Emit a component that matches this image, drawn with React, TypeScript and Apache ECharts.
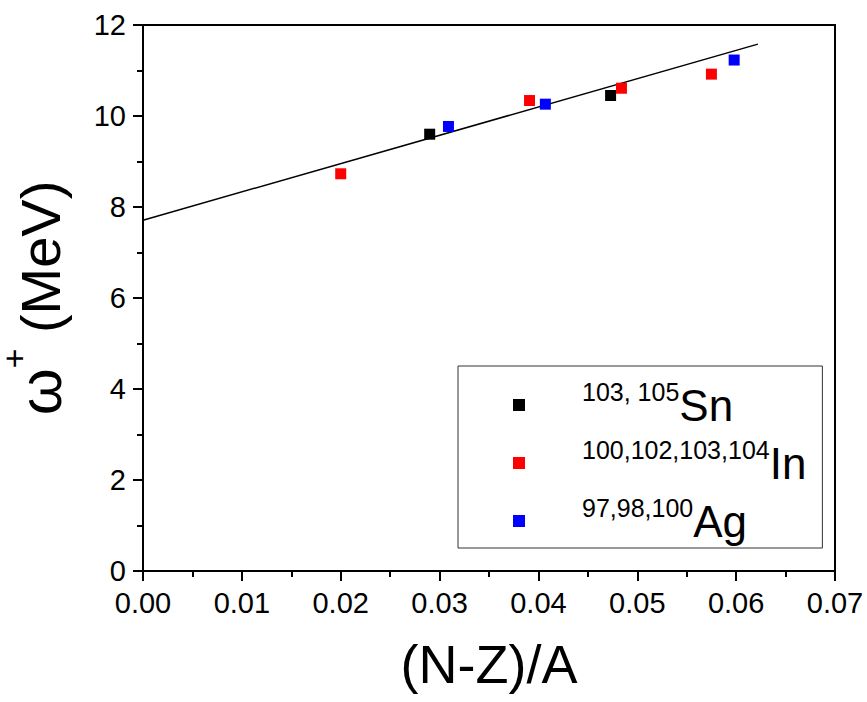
import React, { useEffect, useRef } from "react";
import * as echarts from "echarts";

const xTickMin = 0;
const xTickMax = 0.07;
const xTickStep = 0.01;
const yTickMin = 0;
const yTickMax = 12;
const yTickStep = 2;

const snX = [0.029, 0.0473];
const snY = [9.6, 10.45];
const inX = [0.02, 0.0391, 0.0484, 0.0575];
const inY = [8.73, 10.34, 10.61, 10.92];
const agX = [0.0309, 0.0407, 0.0598];
const agY = [9.77, 10.26, 11.23];
const fitX = [0, 0.0622];
const fitY = [7.71, 11.58];

const legendNames = ["Sn", "In", "Ag"];
const legendSup = ["103, 105", "100,102,103,104", "97,98,100"];

const FONT = "'Liberation Sans', Arial, sans-serif";

const zip = (xs: number[], ys: number[]) => xs.map((x, i) => [x, ys[i]]);

export default function App() {
  const ref = useRef<HTMLDivElement>(null);
  useEffect(() => {
    if (!ref.current) return;
    const chart = echarts.init(ref.current, null, { renderer: "svg" });
    chart.setOption({
      animation: false,
      backgroundColor: "#ffffff",
      grid: {
        left: 143,
        right: 32,
        top: 25,
        bottom: 131,
        show: true,
        borderColor: "#000",
        borderWidth: 2,
        containLabel: false,
        outerBoundsMode: "none",
      },
      legend: {
        orient: "vertical",
        left: 458,
        top: 366,
        data: legendNames,
        icon: "rect",
        itemWidth: 12,
        itemHeight: 12,
        itemGap: 10,
        padding: [13, 16, 5, 55],
        borderColor: "#333",
        borderWidth: 1,
        formatter: (name: string) => {
          const i = legendNames.indexOf(name);
          return `{g| }{s|${legendSup[i]}}{m|${name}}`;
        },
        textStyle: {
          fontFamily: FONT,
          color: "#000",
          rich: {
            g: { width: 52, lineHeight: 52, fontSize: 12 },
            s: { fontSize: 25, lineHeight: 25, verticalAlign: "top", fontFamily: FONT, color: "#000" },
            m: { fontSize: 44, lineHeight: 52, verticalAlign: "middle", fontFamily: FONT, color: "#000" },
          },
        },
      },
      xAxis: {
        type: "value",
        min: xTickMin,
        max: xTickMax,
        interval: xTickStep,
        name: "(N-Z)/A",
        nameLocation: "middle",
        nameGap: 66,
        nameTextStyle: { fontFamily: FONT, fontSize: 54, color: "#000" },
        axisLine: { show: true, onZero: false, lineStyle: { color: "#000", width: 2 } },
        axisTick: { show: true, inside: false, length: 10, lineStyle: { color: "#000", width: 2 } },
        minorTick: { show: true, splitNumber: 2, length: 6, lineStyle: { color: "#000", width: 2 } },
        splitLine: { show: false },
        axisLabel: {
          margin: 17,
          fontFamily: FONT,
          fontSize: 29,
          color: "#000",
          formatter: (v: number) => v.toFixed(2),
        },
      },
      yAxis: {
        type: "value",
        min: yTickMin,
        max: yTickMax,
        interval: yTickStep,
        name: "{w|ω}{p|+}{t| (MeV)}",
        nameLocation: "middle",
        nameGap: 59,
        nameTextStyle: {
          fontFamily: FONT,
          fontSize: 56,
          color: "#000",
          rich: {
            w: { fontFamily: FONT, fontSize: 60, lineHeight: 87, verticalAlign: "middle", color: "#000" },
            p: { fontFamily: FONT, fontSize: 34, lineHeight: 34, verticalAlign: "top", color: "#000" },
            t: { fontFamily: FONT, fontSize: 56, lineHeight: 87, verticalAlign: "middle", color: "#000" },
          },
        },
        axisLine: { show: true, onZero: false, lineStyle: { color: "#000", width: 2 } },
        axisTick: { show: true, inside: false, length: 10, lineStyle: { color: "#000", width: 2 } },
        minorTick: { show: true, splitNumber: 2, length: 6, lineStyle: { color: "#000", width: 2 } },
        splitLine: { show: false },
        axisLabel: { margin: 17, fontFamily: FONT, fontSize: 29, color: "#000" },
      },
      series: [
        {
          name: "fit",
          type: "line",
          data: zip(fitX, fitY),
          showSymbol: false,
          symbol: "none",
          lineStyle: { color: "#000", width: 1.5 },
          z: 1,
        },
        {
          name: "Sn",
          type: "scatter",
          symbol: "rect",
          symbolSize: 11,
          data: zip(snX, snY),
          itemStyle: { color: "#000000", opacity: 1 },
          z: 3,
        },
        {
          name: "In",
          type: "scatter",
          symbol: "rect",
          symbolSize: 11,
          data: zip(inX, inY),
          itemStyle: { color: "#ff0000", opacity: 1 },
          z: 3,
        },
        {
          name: "Ag",
          type: "scatter",
          symbol: "rect",
          symbolSize: 11,
          data: zip(agX, agY),
          itemStyle: { color: "#0000ff", opacity: 1 },
          z: 3,
        },
      ],
    });
    return () => chart.dispose();
  }, []);
  return (
    <div
      ref={ref}
      style={{ position: "absolute", left: 0, top: 0, width: 867, height: 702 }}
    />
  );
}
